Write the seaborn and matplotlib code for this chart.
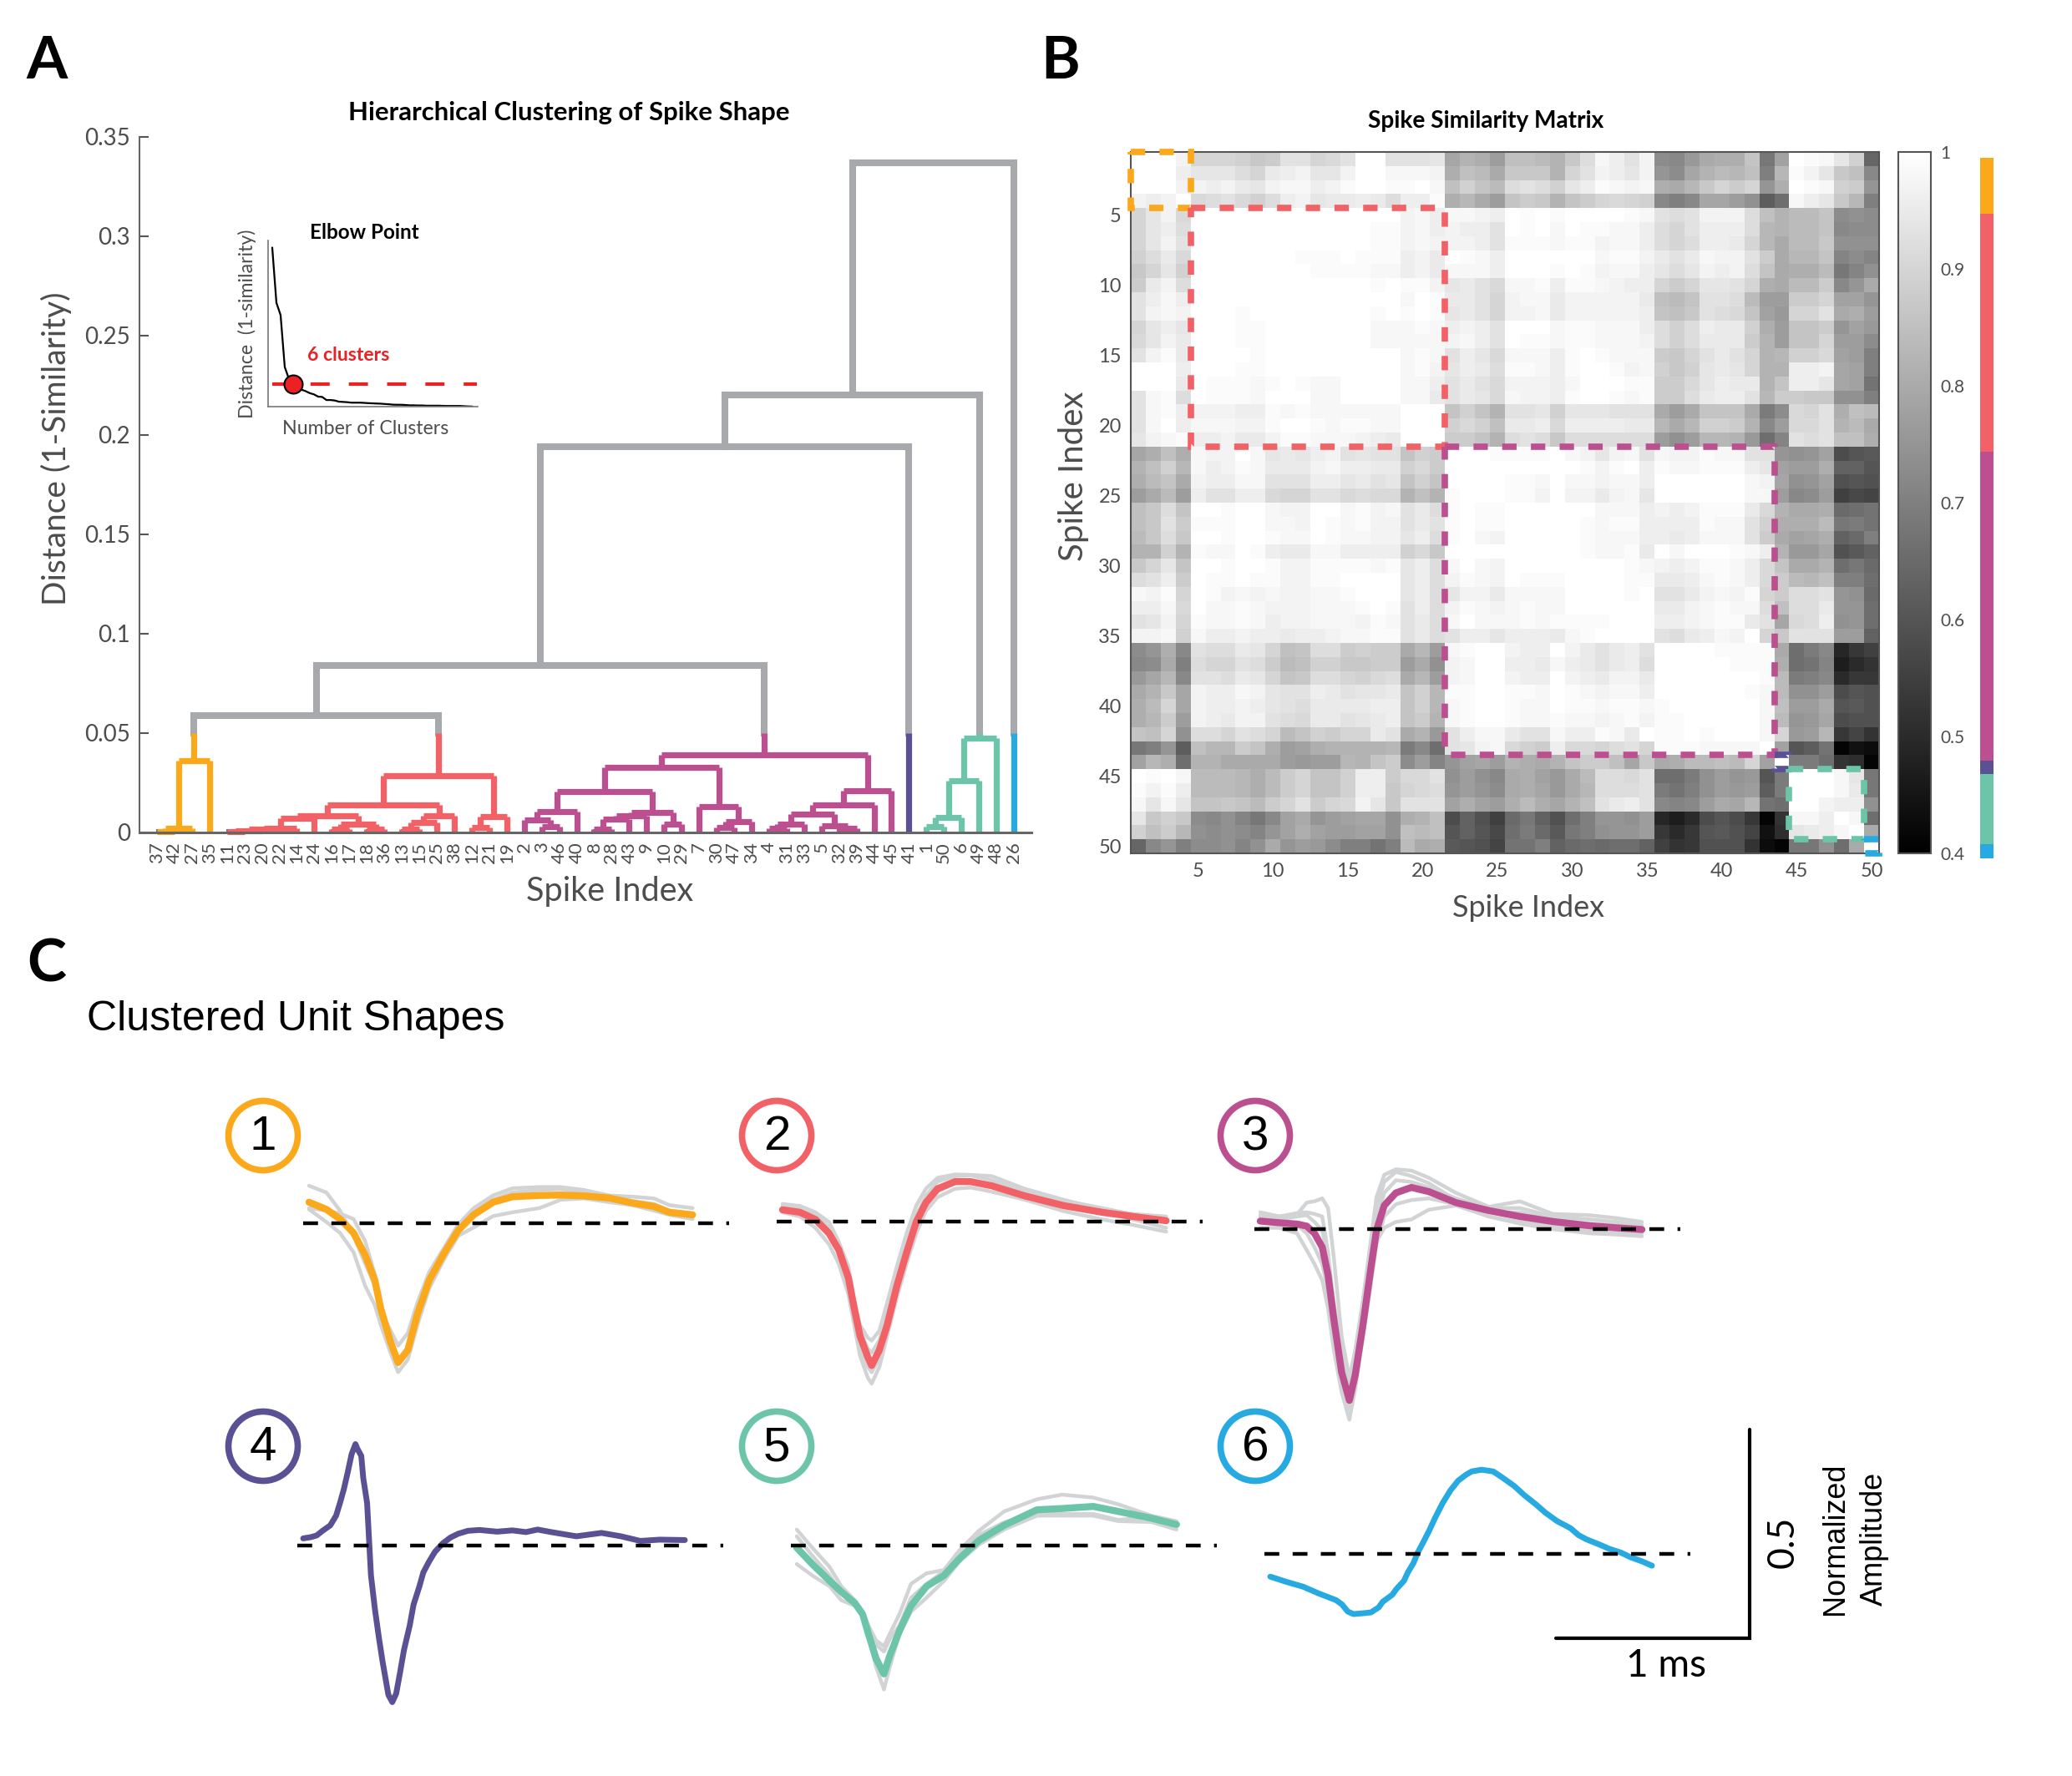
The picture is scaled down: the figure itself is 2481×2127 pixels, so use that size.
# plot.py - spike shape clustering figure (dendrogram, similarity matrix, unit shapes)
import numpy as np
import pandas as pd
import seaborn as sns
import matplotlib
matplotlib.use("Agg")
import matplotlib.pyplot as plt
from matplotlib.colors import ListedColormap
from matplotlib.patches import Circle, Rectangle

W, H = 2481, 2127
sns.set_theme(style="white")
plt.rcParams["font.family"] = ["Lato", "DejaVu Sans"]

ORANGE, RED, PURPLE = "#FBA81A", "#F26166", "#BC4F90"
INDIGO, GREEN, BLUE = "#5A5194", "#6CC5A9", "#27AAE1"
cluster_colors = [ORANGE, RED, PURPLE, INDIGO, GREEN, BLUE]
LINK_GRAY, TRACE_GRAY, TEXT_GRAY = "#A7A9AC", "#D1D3D4", "#4D4D4D"
CUT = 0.05

# dendrogram: (height, left, right), ints are spike numbers
tree_1 = (0.036, (0.002, (0.0003, 37, 42), 27), 35)
tree_2 = (0.0286,
          (0.014,
           (0.0084,
            (0.007, (0.002, (0.0015, (0.001, (0.0005, 11, 23), 20), 22), 14), 24),
            (0.004, (0.0017, 16, 17), (0.0015, 18, 36))),
           (0.0084, (0.005, (0.0015, 13, 15), 25), 38)),
          (0.008, (0.0025, 12, 21), 19))
tree_3 = (0.039,
          (0.0328,
           (0.0205,
            (0.0105, (0.0063, 2, (0.0028, 3, 46)), 40),
            (0.01, (0.0084, (0.0066, (0.0015, 8, 28), 43), 9), (0.004, 10, 29))),
           (0.013, 7, (0.0056, (0.0025, 30, 47), 34))),
          (0.0212,
           (0.014,
            (0.0094,
             (0.0042, (0.002, 4, 31), 33),
             (0.0035, 5, (0.002, 32, 39))),
            44),
           45))
tree_5 = (0.0475, (0.026, (0.0074, (0.0028, 1, 50), 6), 49), 48)
tree_top = (0.337, (0.22, (0.194, (0.084, (0.0587, tree_1, tree_2), tree_3), 41), tree_5), 26)
cluster_sizes = [4, 17, 22, 1, 5, 1]
y_ticks_a = [0, 0.05, 0.1, 0.15, 0.2, 0.25, 0.3, 0.35]

# similarity matrix, upper triangle by row, in percent
sim_rows_1_4 = [
    [100, 100, 100, 97, 90, 90, 90, 89, 87, 88, 93, 93, 90, 91, 93, 100, 100, 93, 93, 93, 94, 79, 82, 81, 77,
     85, 85, 84, 82, 87, 92, 98, 96, 93, 97, 73, 72, 76, 80, 81, 81, 86, 68, 78, 100, 99, 98, 94, 89, 64],
    [100, 100, 96, 94, 94, 94, 92, 90, 95, 96, 97, 94, 94, 97, 100, 100, 98, 98, 98, 97, 81, 85, 84, 80,
     87, 87, 87, 82, 90, 93, 97, 96, 94, 97, 75, 73, 79, 82, 84, 83, 85, 70, 83, 99, 97, 94, 87, 85, 72],
    [100, 97, 97, 96, 97, 95, 94, 97, 98, 98, 96, 97, 99, 100, 100, 99, 99, 100, 98, 85, 89, 86, 84,
     92, 93, 92, 89, 94, 96, 99, 98, 97, 98, 81, 80, 83, 87, 90, 88, 90, 75, 81, 100, 99, 98, 89, 88, 75],
    [100, 91, 92, 93, 91, 89, 92, 96, 97, 94, 95, 95, 96, 95, 92, 96, 96, 99, 81, 83, 80, 77,
     86, 88, 87, 82, 86, 88, 90, 91, 90, 89, 72, 70, 72, 79, 79, 77, 74, 62, 66, 98, 96, 94, 87, 83, 70],
]
sim_rows_5_21 = [
    [100] * 14 + [97, 98, 96, 98, 98, 97, 96,
     100, 99, 100, 99, 100, 100, 100, 100, 99, 98, 93, 92, 93, 97, 97, 97, 92, 85, 82, 84, 84, 86, 73, 74, 73],
    [100] * 11 + [99, 99, 97, 98, 96, 97, 96, 96, 93,
     100, 99, 100, 98, 100, 99, 99, 98, 98, 96, 92, 90, 93, 96, 96, 96, 92, 83, 82, 84, 84, 86, 72, 73, 73],
    [100] * 10 + [99, 99, 97, 98, 97, 97, 97, 96, 93,
     99, 99, 99, 98, 99, 99, 97, 98, 98, 96, 92, 90, 92, 96, 96, 95, 90, 83, 80, 84, 84, 87, 74, 74, 74],
    [100, 100, 100, 100, 99, 99, 99, 100, 99, 99, 99, 96, 97, 95, 100, 99, 98, 96,
     100, 100, 100, 100, 100, 100, 98, 99, 99, 97, 95, 93, 95, 98, 97, 97, 93, 88, 80, 83, 83, 86, 71, 73, 71],
    [100, 100, 100, 100, 99, 99, 99, 99, 98, 98, 96, 97, 95, 98, 98, 98, 96,
     100, 100, 100, 99, 100, 99, 97, 98, 98, 96, 94, 92, 94, 97, 96, 97, 92, 86, 80, 81, 81, 84, 68, 71, 74],
    [100] * 7 + [99, 100, 99, 99, 97, 94, 95, 93, 91,
     98, 98, 99, 96, 99, 99, 98, 97, 96, 96, 90, 88, 90, 94, 94, 93, 90, 81, 80, 84, 84, 88, 72, 75, 80],
    [100] * 8 + [98, 100, 99, 95, 95, 93, 90,
     97, 98, 98, 95, 97, 97, 97, 97, 97, 95, 85, 84, 86, 93, 93, 92, 84, 77, 77, 88, 88, 90, 78, 78, 75],
    [100] * 5 + [99, 100, 99, 100, 99, 94, 95, 93, 90,
     97, 97, 98, 95, 97, 97, 97, 97, 97, 96, 86, 85, 87, 93, 92, 91, 86, 78, 76, 90, 90, 93, 80, 81, 77],
    [100] * 4 + [98, 98, 98, 99, 98, 96, 97, 96, 93,
     100, 100, 100, 98, 99, 99, 98, 98, 98, 96, 92, 89, 92, 96, 95, 95, 89, 81, 77, 86, 86, 88, 75, 78, 76],
    [100] * 3 + [98, 98, 98, 98, 98, 97, 98, 96, 93,
     100, 99, 99, 98, 99, 99, 98, 98, 98, 97, 92, 89, 92, 95, 95, 95, 88, 82, 77, 86, 86, 90, 77, 77, 73],
    [100] * 4 + [98, 99, 98, 93, 96, 94, 91,
     98, 98, 98, 96, 99, 100, 99, 98, 98, 98, 88, 87, 90, 93, 95, 93, 90, 82, 83, 89, 89, 91, 78, 77, 70],
    [100, 100, 100, 98, 99, 97, 94, 96, 95, 92,
     99, 99, 98, 96, 99, 100, 100, 99, 97, 98, 89, 87, 89, 94, 95, 94, 90, 82, 82, 96, 96, 97, 79, 78, 70],
    [100, 100, 98, 98, 96, 93, 95, 93, 91,
     97, 97, 97, 96, 98, 100, 100, 100, 99, 99, 88, 88, 91, 94, 96, 95, 95, 82, 86, 96, 96, 94, 79, 78, 67],
    [100, 98, 98, 95, 93, 95, 94, 91,
     98, 97, 97, 96, 99, 100, 100, 99, 98, 99, 88, 88, 92, 95, 96, 96, 93, 83, 88, 88, 87, 87, 74, 74, 70],
    [100, 100, 100, 86, 89, 86, 82,
     93, 93, 94, 89, 94, 94, 94, 93, 93, 93, 80, 77, 80, 86, 86, 86, 80, 69, 73, 91, 90, 93, 81, 85, 84],
    [100, 100, 89, 91, 89, 85,
     95, 95, 96, 91, 96, 96, 96, 96, 95, 95, 83, 80, 83, 89, 89, 88, 82, 72, 77, 91, 91, 93, 82, 84, 80],
    [100, 88, 88, 86, 82,
     92, 93, 92, 87, 92, 92, 92, 92, 92, 92, 77, 74, 77, 83, 83, 82, 76, 66, 71, 93, 92, 93, 85, 85, 81],
]
sim_rows_22_25 = [
    [100, 100, 100, 99, 99, 99, 99, 100, 98, 97, 94, 97, 98, 93,
     98, 97, 97, 99, 98, 98, 93, 93, 75, 74, 75, 78, 58, 60, 61],
    [100, 100, 100, 100, 100, 100, 100, 100, 99, 97, 99, 100, 96,
     99, 98, 98, 99, 99, 99, 96, 94, 78, 77, 77, 81, 63, 63, 60],
    [100, 100, 99, 99, 98, 100, 98, 98, 97, 98, 98, 96,
     100, 100, 100, 100, 100, 100, 98, 97, 79, 74, 75, 78, 59, 60, 59],
    [100, 99, 99, 97, 100, 97, 97, 95, 97, 98, 94,
     100, 100, 100, 100, 100, 100, 98, 98, 77, 72, 73, 77, 55, 57, 56],
]
sim_rows_26_50 = [
    [100, 100, 100, 100, 100, 100, 98, 98, 98, 96, 97, 96, 97, 99, 99, 99, 95, 91, 82, 80, 80, 81, 65, 66, 67],
    [100, 100, 100, 100, 99, 98, 99, 99, 96, 96, 96, 96, 99, 98, 98, 93, 89, 81, 81, 81, 84, 68, 69, 67],
    [100, 100, 100, 99, 98, 98, 98, 96, 96, 95, 96, 98, 98, 98, 93, 88, 80, 78, 79, 81, 63, 65, 70],
    [100, 100, 99, 98, 98, 99, 95, 100, 98, 100, 100, 100, 99, 98, 96, 82, 76, 76, 79, 59, 61, 63],
    [100, 100, 100, 100, 99, 98, 97, 96, 97, 99, 99, 98, 96, 91, 86, 80, 80, 82, 66, 68, 65],
    [100, 100, 100, 99, 99, 95, 95, 96, 98, 99, 98, 96, 91, 88, 84, 83, 85, 70, 70, 66],
    [100, 100, 99, 100, 93, 93, 95, 97, 98, 97, 99, 90, 88, 92, 92, 93, 75, 74, 65],
    [100, 100, 100, 95, 95, 97, 98, 99, 98, 98, 92, 85, 92, 92, 95, 75, 75, 66],
    [100, 100, 96, 96, 97, 98, 99, 99, 95, 93, 79, 91, 92, 96, 74, 75, 66],
    [100, 93, 92, 95, 96, 98, 97, 100, 90, 87, 93, 93, 93, 77, 77, 63],
    [100, 100, 100, 100, 99, 99, 99, 99, 80, 66, 69, 72, 49, 53, 55],
    [100, 100, 100, 100, 99, 99, 99, 81, 66, 67, 71, 47, 50, 52],
    [100, 100, 100, 100, 100, 99, 84, 69, 70, 72, 50, 53, 53],
    [100, 100, 100, 99, 98, 84, 74, 74, 77, 58, 60, 59],
    [100, 100, 100, 98, 85, 77, 77, 80, 60, 61, 59],
    [100, 100, 98, 84, 75, 76, 79, 58, 59, 59],
    [100, 98, 90, 76, 77, 83, 53, 56, 52],
    [100, 78, 60, 62, 67, 41, 44, 43],
    [100, 69, 69, 66, 52, 51, 41],
    [100, 100, 100, 98, 94, 68],
    [100, 100, 98, 95, 68],
    [97, 96, 96, 74],
    [100, 98, 66],
    [100, 80],
    [100],
]

# unit shapes: time in ms, amplitude in thousandths of normalized amplitude
t_1 = [0, .09, .16, .23, .29, .34, .37, .42, .46, .51, .56, .62, .70, .77, .85, .95, 1.05, 1.19, 1.30, 1.42, 1.55, 1.67, 1.78, 1.86, 1.98]
mean_1 = [50, 33, 10, -23, -76, -136, -202, -281, -331, -301, -215, -136, -69, -17, 20, 50, 63, 66, 67, 65, 60, 48, 40, 26, 20]
gray_1 = [
    [89, 73, 30, -30, -96, -149, -208, -254, -291, -261, -188, -116, -56, -3, 36, 66, 83, 86, 86, 79, 66, 63, 59, 43, 36],
    [33, 3, -23, -69, -149, -195, -241, -307, -354, -324, -241, -155, -83, -30, -10, 17, 26, 36, 56, 59, 50, 43, 30, 20, 10],
    [36, 30, 23, 10, -43, -122, -202, -268, -334, -307, -221, -149, -69, -10, 30, 56, 73, 79, 81, 73, 63, 53, 46, 30, 23],
]
t_2 = [0, .09, .17, .24, .29, .34, .37, .40, .44, .46, .50, .54, .59, .64, .69, .74, .80, .89, .97, 1.08, 1.25, 1.45, 1.65, 1.81, 1.98]
mean_2 = [28, 22, 5, -28, -67, -134, -206, -272, -322, -342, -305, -246, -153, -74, -1, 45, 78, 95, 95, 85, 61, 38, 22, 12, 2]
gray_2 = [
    [42, 37, 22, -1, -48, -107, -186, -246, -276, -283, -259, -193, -107, -28, 38, 78, 104, 112, 111, 108, 78, 52, 28, 18, 12],
    [22, 12, -15, -54, -100, -173, -246, -319, -371, -385, -345, -272, -180, -100, -28, 25, 58, 78, 81, 71, 52, 25, 5, -8, -24],
    [35, 28, 12, -21, -74, -153, -226, -299, -345, -358, -325, -252, -160, -81, -8, 38, 71, 91, 95, 88, 68, 45, 25, 5, -15],
    [38, 33, 17, -15, -64, -127, -200, -259, -302, -312, -282, -216, -127, -51, 15, 61, 95, 108, 110, 98, 73, 50, 32, 17, 7],
]
t_3 = [0, .10, .19, .24, .28, .32, .35, .38, .42, .46, .49, .53, .57, .60, .64, .70, .78, .87, 1.01, 1.18, 1.34, 1.51, 1.70, 1.84, 1.97]
mean_3 = [19, 15, 12, 7, -10, -43, -109, -215, -340, -407, -347, -228, -96, -3, 56, 86, 99, 89, 63, 44, 30, 18, 8, 3, -1]
gray_3 = [
    [40, 30, 35, 63, 66, 73, 50, -69, -254, -354, -288, -169, -30, 76, 129, 142, 139, 122, 86, 53, 66, 36, 33, 26, 17],
    [3, 3, -10, -50, -83, -122, -188, -288, -387, -453, -380, -254, -122, -30, 3, 17, 23, 46, 56, 30, 13, 0, -10, -13, -17],
    [30, 23, 30, 33, 17, -3, -69, -175, -294, -360, -307, -188, -56, 50, 112, 136, 126, 109, 69, 40, 40, 23, 13, 10, 3],
    [23, 17, 10, -10, -43, -83, -149, -254, -360, -426, -367, -254, -135, -36, 30, 59, 69, 73, 59, 30, 17, 7, -3, -7, -10],
    [33, 30, 38, 40, 36, 30, -56, -182, -314, -380, -321, -208, -76, 23, 86, 116, 112, 99, 73, 50, 50, 30, 23, 17, 10],
]
t_4 = [.00, .04, .07, .10, .14, .17, .19, .21, .23, .25, .27, .28, .30, .31, .33, .34, .35, .37, .39, .41, .43, .44, .46, .48,
       .50, .52, .55, .57, .60, .62, .65, .68, .72, .76, .80, .85, .91, 1.00, 1.08, 1.15, 1.21, 1.28, 1.41, 1.54, 1.64, 1.74, 1.84, 1.97]
mean_4 = [17, 20, 24, 35, 48, 71, 101, 134, 174, 217, 241, 230, 213, 161, 101, 15, -71, -150, -216, -276, -329, -355, -372, -352,
          -302, -249, -190, -140, -97, -64, -38, -15, 5, 19, 28, 35, 37, 33, 36, 32, 38, 32, 22, 30, 22, 11, 14, 13]
gray_4 = []
t_5 = [0, .08, .17, .23, .30, .34, .37, .41, .45, .48, .53, .59, .67, .76, .84, .94, 1.07, 1.24, 1.37, 1.53, 1.66, 1.83, 1.96]
mean_5 = [-5, -44, -84, -110, -137, -163, -210, -269, -305, -262, -203, -143, -97, -71, -31, 12, 48, 85, 88, 93, 81, 65, 50]
gray_5 = [
    [38, -5, -51, -97, -130, -157, -190, -226, -239, -210, -163, -91, -66, -58, -11, 35, 81, 110, 121, 114, 98, 71, 58],
    [-44, -71, -97, -130, -143, -157, -216, -289, -342, -289, -210, -157, -124, -84, -38, 2, 38, 71, 71, 71, 58, 56, 38],
    [22, -24, -71, -114, -140, -160, -203, -236, -252, -223, -190, -124, -91, -61, -18, 25, 55, 78, 75, 75, 61, 68, 55],
]
t_6 = [0, .08, .17, .25, .34, .37, .40, .43, .48, .52, .56, .58, .63, .65, .69, .71, .74, .76, .79, .82, .85, .89, .93, .97, 1.01,
       1.04, 1.09, 1.15, 1.19, 1.26, 1.31, 1.37, 1.42, 1.48, 1.55, 1.59, 1.63, 1.70, 1.75, 1.81, 1.86, 1.92, 1.97]
mean_6 = [-54, -66, -78, -94, -110, -120, -137, -143, -141, -139, -127, -114, -97, -84, -64, -44, -21, 2, 28, 55, 85, 121, 151, 174, 188,
          196, 200, 196, 184, 161, 140, 118, 98, 78, 61, 45, 35, 22, 12, 3, -8, -18, -28]
gray_6 = []


def px_axes(fig, left, top, width, height, **kw):
    return fig.add_axes([left / W, 1 - (top + height) / H, width / W, height / H], **kw)


fig = plt.figure(figsize=(W / 100, H / 100), dpi=100, facecolor="white")

# -----------------------------------------------------------------------
# A - dendrogram
# -----------------------------------------------------------------------
leaf_color = {}
def mark_leaves(node, color):
    if isinstance(node, int):
        leaf_color[node] = color
    else:
        mark_leaves(node[1], color)
        mark_leaves(node[2], color)

for tree, col in zip([tree_1, tree_2, tree_3, 41, tree_5, 26], cluster_colors):
    mark_leaves(tree, col)

segments, leaf_order, merge_heights = [], [], []
def add_segment(xs, ys, color):
    for x, y in zip(xs, ys):
        segments.append({"x": x, "y": y, "seg": add_segment.n, "color": color})
    add_segment.n += 1
add_segment.n = 0

def walk(node):
    if isinstance(node, int):
        leaf_order.append(node)
        return len(leaf_order), 0.0, leaf_color[node]
    h, a, b = node
    xa, ha, ca = walk(a)
    xb, hb, cb = walk(b)
    merge_heights.append(h)
    col = ca if h < CUT else LINK_GRAY
    for x, hc, cc in [(xa, ha, ca), (xb, hb, cb)]:
        if hc < CUT < h:
            add_segment([x, x], [hc, CUT], cc)
            add_segment([x, x], [CUT, h], LINK_GRAY)
        else:
            add_segment([x, x], [hc, h], col)
    add_segment([xa, xb], [h, h], col)
    return (xa + xb) / 2, h, col

walk(tree_top)
seg_df = pd.DataFrame(segments)

ax_a = px_axes(fig, 167, 164, 1068, 833)
for sub, lw, cap in [(seg_df[seg_df.color == LINK_GRAY], 5.8, "projecting"), (seg_df[seg_df.color != LINK_GRAY], 5.2, "butt")]:
    sns.lineplot(data=sub, x="x", y="y", units="seg", estimator=None, sort=False,
                 hue="color", palette={c: c for c in sub.color.unique()}, legend=False,
                 linewidth=lw, ax=ax_a, solid_capstyle=cap, clip_on=False)
ax_a.set_xlim(0, 51)
ax_a.set_ylim(0, 0.35)
ax_a.set_xticks(range(1, 51))
ax_a.set_xticklabels(leaf_order, rotation=90, fontsize=16, color=TEXT_GRAY)
ax_a.set_yticks(y_ticks_a)
ax_a.set_yticklabels(["0", "0.05", "0.1", "0.15", "0.2", "0.25", "0.3", "0.35"], fontsize=20, color=TEXT_GRAY)
ax_a.tick_params(axis="y", direction="in", length=8, width=1.5, color="#555555", pad=8, left=True)
ax_a.tick_params(axis="x", direction="in", length=3, width=1.2, color="#555555", pad=8, bottom=True)
ax_a.set_xlabel("")
ax_a.set_ylabel("")
sns.despine(ax=ax_a)
ax_a.spines["left"].set_color("#666666")
ax_a.spines["left"].set_linewidth(1.5)
ax_a.spines["bottom"].set_color("#666666")
ax_a.spines["bottom"].set_linewidth(2.2)
ax_a.patch.set_alpha(0)

# elbow inset, the curve is the sorted merge heights of the tree
sorted_heights = sorted(merge_heights, reverse=True)
n_clusters = np.arange(1, len(sorted_heights) + 1)
ax_in = px_axes(fig, 321, 288, 251, 199)
sns.lineplot(x=n_clusters, y=sorted_heights, color="black", linewidth=1.6, ax=ax_in, estimator=None, sort=False)
ax_in.plot([1, 50], [sorted_heights[5]] * 2, color="#ED2024", lw=3, dashes=(5.5, 5.5))
sns.scatterplot(x=[6], y=[sorted_heights[5]], s=250, color="#ED2024", edgecolor="black", linewidth=1.5, ax=ax_in, zorder=5, clip_on=False)
ax_in.set_xlim(0, 50.3)
ax_in.set_ylim(0, 0.352)
ax_in.set_xticks([])
ax_in.set_yticks([])
ax_in.set_xlabel("")
ax_in.set_ylabel("")
sns.despine(ax=ax_in)
for side in ["left", "bottom"]:
    ax_in.spines[side].set_color("#777777")
    ax_in.spines[side].set_linewidth(1.2)
ax_in.patch.set_alpha(0)

# -----------------------------------------------------------------------
# B - similarity matrix
# -----------------------------------------------------------------------
sim = np.zeros((50, 50))
for i, row in enumerate(sim_rows_1_4 + sim_rows_5_21 + sim_rows_22_25 + sim_rows_26_50):
    sim[i, i:] = row
    sim[i:, i] = row
sim = sim / 100

ax_b = px_axes(fig, 1354, 182, 896, 840)
ax_cb = px_axes(fig, 2273, 182, 39, 840)
sns.heatmap(sim, cmap="gray", vmin=0.4, vmax=1, ax=ax_b, cbar_ax=ax_cb,
            xticklabels=False, yticklabels=False)
idx_ticks = list(range(5, 51, 5))
ax_b.set_xticks([v - 0.5 for v in idx_ticks])
ax_b.set_xticklabels(idx_ticks, rotation=0, fontsize=17, color=TEXT_GRAY)
ax_b.set_yticks([v - 0.5 for v in idx_ticks])
ax_b.set_yticklabels(idx_ticks, rotation=0, fontsize=17, color=TEXT_GRAY)
ax_b.tick_params(axis="both", direction="in", length=8, width=1.4, color="#555555", pad=8,
                 top=True, right=True, bottom=True, left=True)
for sp in ax_b.spines.values():
    sp.set_visible(True)
    sp.set_color("#555555")
    sp.set_linewidth(1.5)

edges = np.cumsum([0] + cluster_sizes)
for a, b, col in zip(edges[:-1], edges[1:], cluster_colors):
    ax_b.add_patch(Rectangle((a, a), b - a, b - a, fill=False, ec=col, lw=5.5,
                             ls=(0, (2.25, 2.25)), clip_on=False, zorder=5))

cbar = ax_b.collections[0].colorbar
cbar.set_ticks([0.4, 0.5, 0.6, 0.7, 0.8, 0.9, 1])
cbar.set_ticklabels(["0.4", "0.5", "0.6", "0.7", "0.8", "0.9", "1"], fontsize=15, color=TEXT_GRAY)
ax_cb.tick_params(axis="y", direction="in", length=8, width=1.2, color="#555555", pad=8, right=True)
cbar.outline.set_visible(True)
cbar.outline.set_edgecolor("#555555")
cbar.outline.set_linewidth(1.5)

ax_strip = px_axes(fig, 2371, 189, 16, 839)
cluster_ids = np.repeat(np.arange(6), cluster_sizes).reshape(-1, 1)
sns.heatmap(cluster_ids, cmap=ListedColormap(cluster_colors), cbar=False, ax=ax_strip,
            xticklabels=False, yticklabels=False)

# -----------------------------------------------------------------------
# C - unit shapes, all panels on the scale of the scale bar
# -----------------------------------------------------------------------
PX_MS, PX_AMP = 232, 504
panels = [
    (t_1, mean_1, gray_1, ORANGE, 370, 1465, 6.0),
    (t_2, mean_2, gray_2, RED, 937, 1463, 6.0),
    (t_3, mean_3, gray_3, PURPLE, 1509, 1472, 6.0),
    (t_4, mean_4, gray_4, INDIGO, 363, 1851, 5.0),
    (t_5, mean_5, gray_5, GREEN, 954, 1851, 6.0),
    (t_6, mean_6, gray_6, BLUE, 1521, 1861, 5.0),
]
for t, mean, grays, col, x0, y0, lw in panels:
    ax = px_axes(fig, x0 - 0.1 * PX_MS, y0 - 0.35 * PX_AMP, 2.5 * PX_MS, 0.85 * PX_AMP)
    for g in grays:
        sns.lineplot(x=t, y=np.array(g) / 1000, color=TRACE_GRAY, linewidth=3.2, ax=ax, estimator=None, sort=False)
    sns.lineplot(x=t, y=np.array(mean) / 1000, color=col, linewidth=lw, ax=ax, estimator=None, sort=False)
    ax.plot([-0.03, 2.17], [0, 0], color="black", lw=3.2, dashes=(4.0, 3.6), zorder=6)
    ax.set_xlim(-0.1, 2.4)
    ax.set_ylim(-0.5, 0.35)
    ax.axis("off")

# -----------------------------------------------------------------------
# text and annotation layer, in pixels
# -----------------------------------------------------------------------
ov = fig.add_axes([0, 0, 1, 1], zorder=10)
ov.set_xlim(0, W)
ov.set_ylim(H, 0)
ov.axis("off")

def label(x, y, s, size, **kw):
    kw.setdefault("ha", "center")
    kw.setdefault("va", "center")
    kw.setdefault("color", TEXT_GRAY)
    ov.text(x, y, s, fontsize=size, **kw)

for x, y, s in [(56, 74, "A"), (1270, 74, "B"), (56, 1155, "C")]:
    label(x, y, s, 51, color="black", fontweight="bold")

label(681, 135, "Hierarchical Clustering of Spike Shape", 22.4, color="black", fontweight="bold")
label(1779, 145, "Spike Similarity Matrix", 20.2, color="black", fontweight="bold")
label(67, 537, "Distance (1-Similarity)", 28, rotation=90)
label(730, 1068, "Spike Index", 28.5)
label(1285, 570, "Spike Index", 29, rotation=90)
label(1830, 1087, "Spike Index", 26)

label(436, 279, "Elbow Point", 17.5, color="black", fontweight="bold")
label(417, 425, "6 clusters", 16.6, color="#ED2024", fontweight="bold")
label(438, 513, "Number of Clusters", 16.7)
label(296, 388, "Distance  (1-similarity)", 16.7, rotation=90)

label(104, 1221, "Clustered Unit Shapes", 36, ha="left", color="black", family="Liberation Sans")

circle_px = [(315, 1360), (930, 1360), (1503, 1360), (315, 1732), (930, 1732), (1503, 1732)]
for i, ((x, y), col) in enumerate(zip(circle_px, cluster_colors)):
    ov.add_patch(Circle((x, y), 41.5, fill=False, ec=col, lw=5.5))
    label(x, y + 2, str(i + 1), 42, color="black", family="Liberation Sans")

ov.plot([1863, 2095, 2095], [1962, 1962, 1712], color="black", lw=3, solid_joinstyle="miter")
label(1995, 1995, "1 ms", 33, color="black")
label(2135, 1847, "0.5", 32, color="black", rotation=90)
label(2197, 1843, "Normalized", 26, color="black", rotation=90, family="Liberation Sans")
label(2244, 1843, "Amplitude", 26, color="black", rotation=90, family="Liberation Sans")

fig.savefig("out.png", dpi=100, facecolor="white")
